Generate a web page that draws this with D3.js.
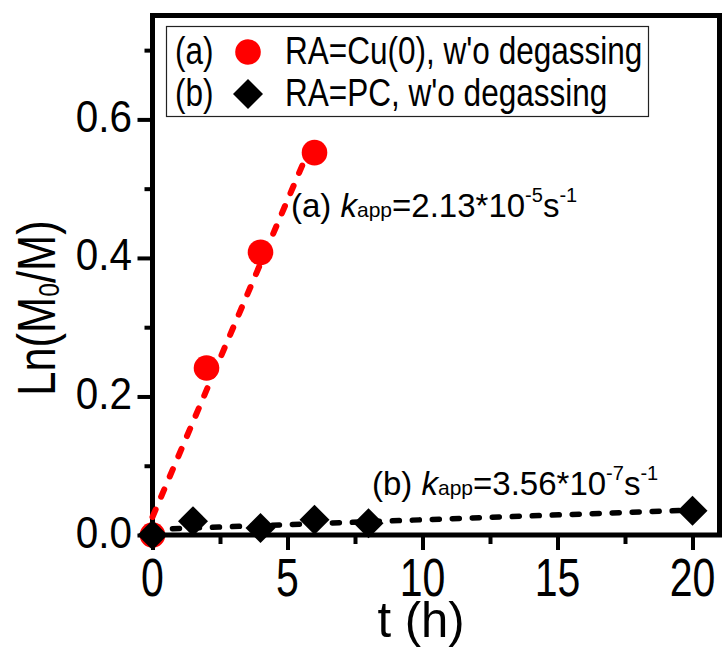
<!DOCTYPE html>
<html>
<head>
<meta charset="utf-8">
<script src="https://cdn.jsdelivr.net/npm/d3@7"></script>
<style>
  body { margin: 0; background: #fff; }
  svg { display: block; font-family: "Liberation Sans", Arial, sans-serif; }
</style>
</head>
<body>
<svg id="chart" width="722" height="648"></svg>
<script>
// data
const tA = [0, 2, 4, 6];                       // RA=Cu(0)
const lnA = [0, 0.241, 0.408, 0.552];
const tB = [0, 1.5, 4, 6, 8, 20];              // RA=PC
const lnB = [0, 0.020, 0.010, 0.022, 0.017, 0.035];
const fitAt = [0, 6], fitAy = [0.026, 0.575];  // linear fits
const fitBt = [0, 20], fitBy = [0.008, 0.036];

const xMajor = [0, 5, 10, 15, 20];
const xMinor = [2.5, 7.5, 12.5, 17.5];
const yMajor = [0, 0.2, 0.4, 0.6];
const yMinor = [0.1, 0.3, 0.5, 0.7];

const svg = d3.select('#chart');
const x = d3.scaleLinear().domain([0, 21]).range([152.5, 719.5]);
const y = d3.scaleLinear().domain([0, 0.75]).range([535, 15.5]);

// ticks (outside)
const tickW = 4;
function ticks(axis, vals, size, shift) {
  svg.append('g').attr('transform', shift)
    .call(axis.tickValues(vals).tickSize(size).tickFormat(''))
    .call(g => g.selectAll('line').attr('stroke-width', tickW))
    .call(g => g.select('.domain').remove());
}
ticks(d3.axisBottom(x), xMajor, 15, `translate(0,${y(0)})`);
ticks(d3.axisBottom(x), xMinor, 9, `translate(0,${y(0)})`);
ticks(d3.axisLeft(y), yMajor, 15, `translate(${x(0)},0)`);
ticks(d3.axisLeft(y), yMinor, 8, `translate(${x(0)},0)`);

// frame
svg.append('rect')
  .attr('x', x(0)).attr('y', y(0.75))
  .attr('width', x(21) - x(0)).attr('height', y(0) - y(0.75))
  .attr('fill', 'none').attr('stroke', '#000').attr('stroke-width', 5);

// tick labels
svg.selectAll('.ylab').data(yMajor).enter().append('text')
  .attr('transform', d => `translate(132,${y(d) + 12.5}) scale(0.92,1)`)
  .attr('text-anchor', 'end').attr('font-size', 44)
  .text(d3.format('.1f'));
svg.selectAll('.xlab').data(xMajor).enter().append('text')
  .attr('transform', d => `translate(${x(d)},596) scale(0.76,1)`)
  .attr('text-anchor', 'middle').attr('font-size', 54)
  .text(d => d);

// axis titles
svg.append('text')
  .attr('transform', 'translate(421,637) scale(0.98,1)')
  .attr('text-anchor', 'middle').attr('font-size', 50)
  .text('t (h)');
const yt = svg.append('text')
  .attr('transform', 'translate(55,308) rotate(-90) scale(0.82,1)')
  .attr('text-anchor', 'middle').attr('font-size', 53);
yt.append('tspan').text('Ln(M');
yt.append('tspan').attr('font-size', 30).attr('dy', 4).text('0');
yt.append('tspan').attr('dy', -4).text('/M)');

// fit lines
const line = d3.line().x(d => x(d[0])).y(d => y(d[1]));
svg.append('path').datum(d3.zip(fitBt, fitBy)).attr('d', line)
  .attr('fill', 'none').attr('stroke', '#000').attr('stroke-width', 5.5)
  .attr('stroke-linecap', 'round').attr('stroke-dasharray', '7,13');
svg.append('path').datum(d3.zip(fitAt, fitAy)).attr('d', line)
  .attr('fill', 'none').attr('stroke', '#ff0000').attr('stroke-width', 6)
  .attr('stroke-linecap', 'round').attr('stroke-dasharray', '8,14');

// points
const diamond = d3.symbol().type(d3.symbolSquare).size(30 * 30 / 2);
svg.selectAll('.ptA').data(d3.zip(tA, lnA)).enter().append('circle')
  .attr('cx', d => x(d[0])).attr('cy', d => y(d[1])).attr('r', 12.8)
  .attr('fill', '#ff0000');
svg.selectAll('.ptB').data(d3.zip(tB, lnB)).enter().append('path')
  .attr('d', diamond)
  .attr('transform', d => `translate(${x(d[0])},${y(d[1])}) rotate(45)`)
  .attr('fill', '#000');

// annotations
function kapp(x0, y0, pre, val, exp) {
  const t = svg.append('text')
    .attr('transform', `translate(${x0},${y0}) scale(1,1)`)
    .attr('font-size', 33);
  t.append('tspan').text(pre + ' ');
  t.append('tspan').attr('font-style', 'italic').text('k');
  t.append('tspan').attr('font-size', 21).text('app');
  t.append('tspan').text('=' + val + '*10');
  t.append('tspan').attr('font-size', 20).attr('dy', -15).text(exp);
  t.append('tspan').attr('font-size', 33).attr('dy', 15).text('s');
  t.append('tspan').attr('font-size', 20).attr('dy', -15).text('-1');
}
kapp(291, 217, '(a)', '2.13', '-5');
kapp(372, 495, '(b)', '3.56', '-7');

// legend
const lg = svg.append('g');
lg.append('rect').attr('x', 166.5).attr('y', 26.5).attr('width', 482).attr('height', 90)
  .attr('fill', '#fff').attr('stroke', '#222').attr('stroke-width', 1.2);
const rows = [
  { tag: '(a)', name: 'RA=Cu(0), w\'o degassing', cy: 52, base: 64 },
  { tag: '(b)', name: 'RA=PC, w\'o degassing', cy: 94, base: 106 }
];
rows.forEach((r, i) => {
  lg.append('text').attr('transform', `translate(175,${r.base}) scale(0.83,1)`)
    .attr('font-size', 38).text(r.tag);
  lg.append('text').attr('transform', `translate(285,${r.base}) scale(0.83,1)`)
    .attr('font-size', 38).text(r.name);
  if (i === 0) {
    lg.append('circle').attr('cx', 248).attr('cy', r.cy).attr('r', 12.8).attr('fill', '#ff0000');
  } else {
    lg.append('path').attr('d', diamond)
      .attr('transform', `translate(248,${r.cy}) rotate(45)`).attr('fill', '#000');
  }
});
</script>
</body>
</html>
